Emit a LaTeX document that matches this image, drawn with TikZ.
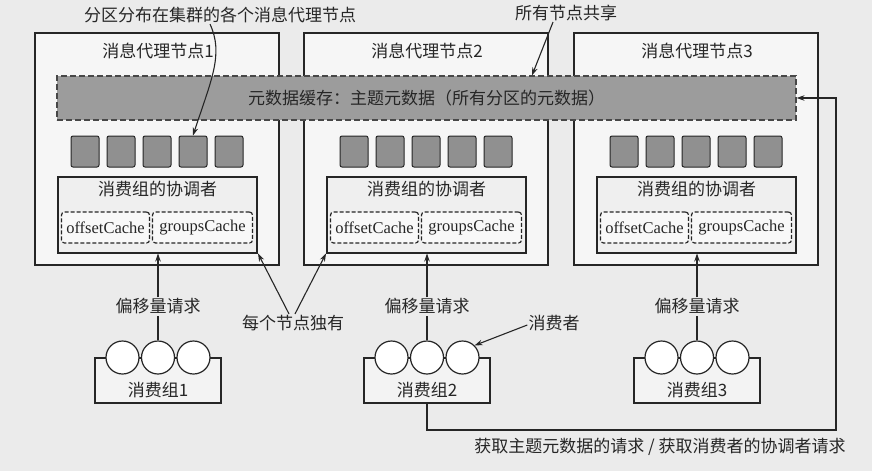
\documentclass[tikz,border=0pt]{standalone}
\usepackage{fontspec}
\setmainfont{Liberation Serif}
\newfontfamily\cjk{Noto Sans CJK SC}
\usetikzlibrary{arrows.meta}
\definecolor{bg}{HTML}{EBEBEB}
\definecolor{ink}{HTML}{262626}
\definecolor{boxfill}{HTML}{F6F6F6}
\definecolor{bandfill}{HTML}{9C9C9C}
\definecolor{partfill}{HTML}{909090}
\definecolor{coordfill}{HTML}{EFEFEF}
\definecolor{cachefill}{HTML}{F8F8F8}
\definecolor{grpfill}{HTML}{F3F3F3}
\begin{document}
\begin{tikzpicture}[x=1pt,y=-1pt,
  lab/.style={font=\cjk\fontsize{17}{19}\selectfont, text=ink, inner sep=1pt},
  broker/.style={draw=ink, line width=1.2pt, fill=boxfill, minimum width=244pt, minimum height=232pt, inner sep=0pt},
  band/.style={draw=ink!85, line width=1.2pt, dash pattern=on 6pt off 3pt, fill=bandfill, minimum width=739pt, minimum height=44pt, inner sep=0pt, font=\cjk\fontsize{17}{19}\selectfont, text=ink},
  part/.style={draw=ink, line width=1pt, fill=partfill, rounded corners=2pt, minimum width=28pt, minimum height=31pt, inner sep=0pt},
  coordbox/.style={draw=ink, line width=2pt, fill=coordfill, minimum width=199pt, minimum height=76pt, inner sep=0pt},
  cachebox/.style={draw=ink, line width=1.2pt, dash pattern=on 4pt off 2pt, fill=cachefill, rounded corners=3pt, minimum height=31pt, inner sep=0pt, font=\fontsize{16.5}{18}\selectfont, text=ink},
  grp/.style={draw=ink, line width=1.3pt, fill=grpfill, minimum width=126pt, minimum height=45pt, inner sep=0pt},
  consumer/.style={circle, draw=ink, line width=1.2pt, fill=white, minimum size=33pt, inner sep=0pt},
  arr/.style={-{Stealth[length=8pt,width=5.5pt]}, line width=1.1pt, draw=ink},
  ln/.style={line width=1.1pt, draw=ink}
]
\path[use as bounding box, fill=bg] (0,0) rectangle (872,471);

% brokers
\foreach \i/\x in {1/157,2/426,3/696}{
  \node[broker] (b\i) at (\x,149) {};
  \node[lab] (t\i) at (\x+1,51) {消息代理节点\i};
}
% shared metadata cache band
\node[band] (band) at (426.5,98) {元数据缓存：主题元数据（所有分区的元数据）};

\foreach \i/\x in {1/157,2/426,3/696}{
  % partitions
  \foreach \j/\d in {1/-72,2/-36,3/0,4/36,5/72}{
    \node[part] (p\i\j) at (\x+\d,151.5) {};
  }
  % coordinator
  \node[coordbox] (c\i) at (\x+0.5,214.5) {};
  \node[lab] (ct\i) at (\x+0.5,189) {消费组的协调者};
  \node[cachebox, minimum width=88pt] (oc\i) at (\x-51.5,227.5) {offsetCache};
  \node[cachebox, minimum width=100pt] (gc\i) at (\x+45.5,227.5) {groupsCache};
  % consumer group
  \node[grp] (g\i) at (\x+1,380.5) {};
  \node[consumer] (k\i1) at (\x-34.5,357.5) {};
  \node[consumer] (k\i2) at (\x+1,357.5) {};
  \node[consumer] (k\i3) at (\x+36.5,357.5) {};
  \node[lab] (gl\i) at (\x+1,390) {消费组\i};
  % offset request
  \node[lab] (r\i) at (\x+1,306.5) {偏移量请求};
  \draw[arr] (r\i.north) -- (c\i.south -| r\i.north);
  \draw[ln] (k\i2.north) -- (r\i.south);
}

% annotations
\node[lab] (ann1) at (220,15) {分区分布在集群的各个消息代理节点};
\draw[arr] ([xshift=-10pt]ann1.south) .. controls +(14,30) and +(18,-55) .. (p14.north);

\node[lab] (ann2) at (566,13) {所有节点共享};
\draw[arr] ([xshift=-13pt]ann2.south) -- ([xshift=105.5pt]band.north);

\node[lab] (own) at (293,323) {每个节点独有};
\draw[arr] ([xshift=-4pt]own.north) -- (c1.south east);
\draw[arr] ([xshift=2pt]own.north) -- (c2.south west);

\node[lab] (cons) at (554,323) {消费者};
\draw[arr] ([yshift=-2pt]cons.west) -- (k23.north east);

% metadata / coordinator request loop
\coordinate (turn) at (836,430);
\draw[arr] (g2.south) |- (turn) |- (band.east);
\node[lab] (req) at (660,447) {获取主题元数据的请求 / 获取消费者的协调者请求};
\end{tikzpicture}
\end{document}
